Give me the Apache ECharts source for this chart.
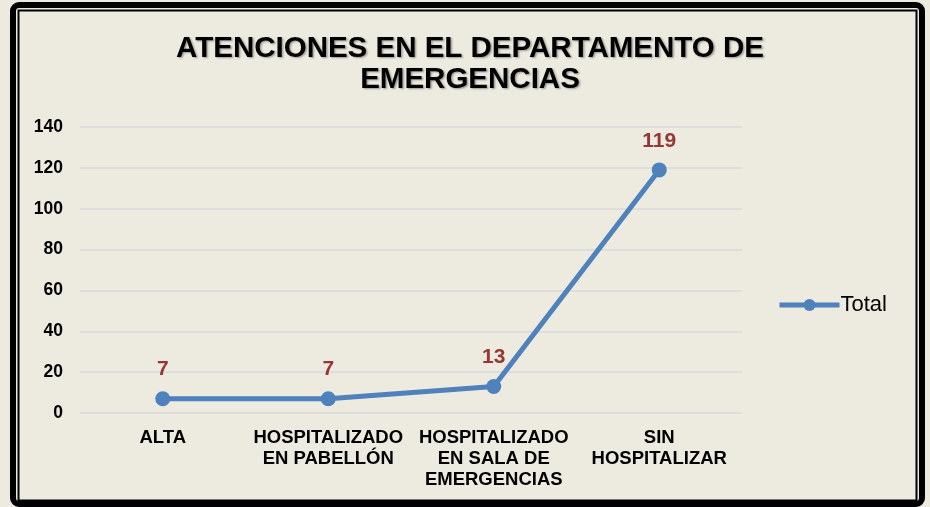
<!DOCTYPE html>
<html>
<head>
    <meta charset="utf-8">
    <title>Atenciones</title>
    <script src="https://cdn.jsdelivr.net/npm/echarts@6/dist/echarts.min.js"></script>
    <style>
        html, body {margin: 0; padding: 0; background: #EDEBE0;}
    </style>
</head>
<body>
<div id="main" style="width: 930px;height:507px;"></div>
<script type="text/javascript">
    var categories = ['ALTA', 'HOSPITALIZADO\nEN PABELLÓN', 'HOSPITALIZADO\nEN SALA DE\nEMERGENCIAS', 'SIN\nHOSPITALIZAR'];
    var totals = [7, 7, 13, 119];
    var yTicks = {min: 0, max: 140, interval: 20};

    var myChart = echarts.init(document.getElementById('main'));

    var option = {
        backgroundColor: '#EDEBE0',
        textStyle: {fontFamily: 'Liberation Sans, Arial, sans-serif'},
        title: {
            text: 'ATENCIONES EN EL DEPARTAMENTO DE\nEMERGENCIAS',
            left: 465,
            top: 28,
            textAlign: 'center',
            textStyle: {
                fontSize: 29.5,
                fontWeight: 'bold',
                color: '#000',
                lineHeight: 31,
                textShadowColor: 'rgba(0,0,0,0.35)',
                textShadowBlur: 2,
                textShadowOffsetX: 1.5,
                textShadowOffsetY: 1.5
            }
        },
        legend: {
            data: ['Total'],
            left: 772,
            top: 289,
            itemWidth: 60,
            itemHeight: 15,
            itemGap: 4,
            lineStyle: {width: 5},
            textStyle: {fontSize: 22, color: '#000', padding: [0, 0, 0, -4]}
        },
        grid: {left: 80, right: 188, top: 127, bottom: 94},
        xAxis: {
            type: 'category',
            data: categories,
            axisLine: {show: false},
            axisTick: {show: false},
            axisLabel: {
                interval: 0,
                fontSize: 18.5,
                fontWeight: 'bold',
                color: '#000',
                lineHeight: 21,
                margin: 14
            }
        },
        yAxis: {
            type: 'value',
            min: yTicks.min,
            max: yTicks.max,
            interval: yTicks.interval,
            axisLine: {show: false},
            axisTick: {show: false},
            axisLabel: {fontSize: 17.5, fontWeight: 'bold', color: '#000', margin: 17},
            splitLine: {lineStyle: {color: '#D8D8DC', width: 1.5}}
        },
        series: [
            {
                name: 'Total',
                type: 'line',
                data: totals,
                symbol: 'circle',
                symbolSize: 15,
                lineStyle: {color: '#4F81BD', width: 5},
                itemStyle: {color: '#4F81BD'},
                label: {
                    show: true,
                    position: 'top',
                    distance: 11,
                    fontSize: 21,
                    fontWeight: 'bold',
                    color: '#953735'
                }
            }
        ],
        graphic: [
            {
                type: 'rect',
                shape: {x: 13, y: 5, width: 909, height: 499, r: 6},
                style: {fill: null, stroke: '#000', lineWidth: 6}
            },
            {
                type: 'rect',
                shape: {x: 18.5, y: 10.5, width: 898, height: 490},
                style: {fill: null, stroke: '#000', lineWidth: 2}
            }
        ]
    };

    myChart.setOption(option);
</script>
</body>
</html>
